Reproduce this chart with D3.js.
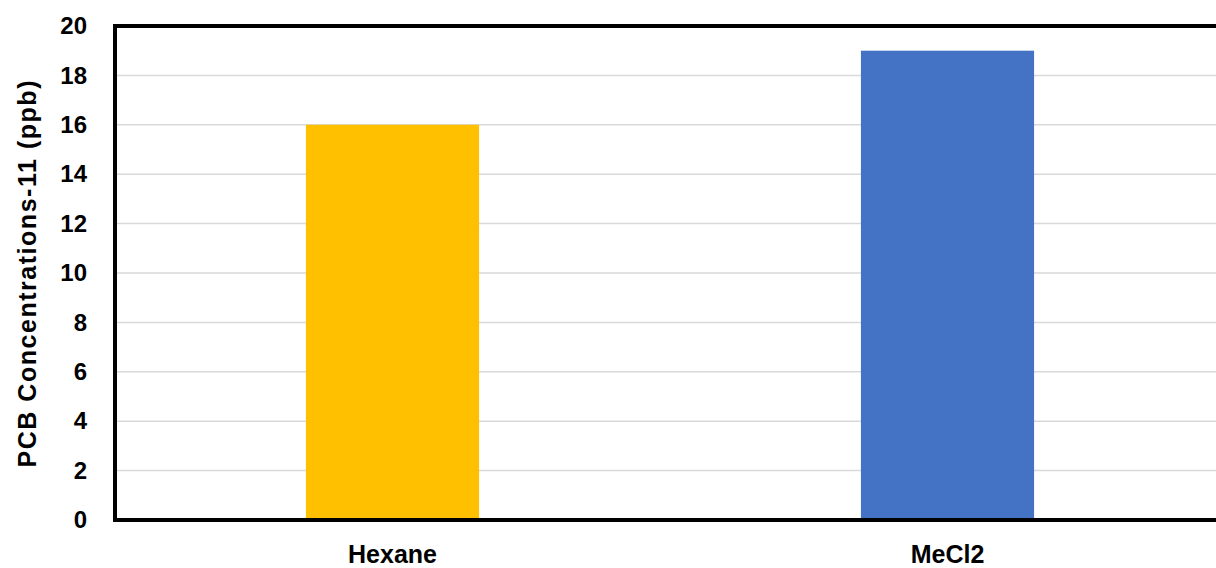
<!DOCTYPE html>
<html>
  <head>
    <meta charset="utf-8" />
    <script src="https://d3js.org/d3.v7.min.js"></script>
    <style>
      body { margin: 0; background: #fff; }
      text { font-family: "Liberation Sans", Arial, sans-serif; font-weight: bold; fill: #000; }
    </style>
  </head>
  <body>
    <div id="chart"></div>
    <script>
      // chart data
      const categories = ["Hexane", "MeCl2"];
      const values = [16, 19];
      const colors = ["#ffc000", "#4472c4"];
      const yTicks = [0, 2, 4, 6, 8, 10, 12, 14, 16, 18, 20];

      const width = 1216;
      const height = 568;
      const margin = { top: 26, right: -9, bottom: 48, left: 115 };

      const svg = d3
        .select("#chart")
        .append("svg")
        .attr("width", width)
        .attr("height", height);

      const x = d3
        .scaleBand()
        .domain(categories)
        .range([margin.left, width - margin.right])
        .paddingInner(0.688)
        .paddingOuter(0.344);

      const y = d3
        .scaleLinear()
        .domain([0, 20])
        .range([height - margin.bottom, margin.top]);

      // gridlines
      svg
        .append("g")
        .selectAll("line")
        .data(yTicks.filter((d) => d > 0 && d < 20))
        .enter()
        .append("line")
        .attr("x1", margin.left)
        .attr("x2", width)
        .attr("y1", (d) => y(d))
        .attr("y2", (d) => y(d))
        .style("stroke", "#d9d9d9")
        .style("stroke-width", 1.5);

      // bars
      svg
        .append("g")
        .selectAll("rect")
        .data(values)
        .enter()
        .append("rect")
        .attr("x", (d, i) => x(categories[i]))
        .attr("width", x.bandwidth())
        .attr("y", (d) => y(d))
        .attr("height", (d) => y(0) - y(d))
        .style("fill", (d, i) => colors[i]);

      // frame: top, left, bottom (right edge falls outside the view)
      svg
        .append("path")
        .attr("d", `M${width},${y(20)}H${margin.left}V${y(0)}H${width}`)
        .style("fill", "none")
        .style("stroke", "#000")
        .style("stroke-width", 4);

      // y tick labels
      const yAxis = d3.axisLeft(y).tickValues(yTicks).tickSize(0).tickPadding(28);
      svg
        .append("g")
        .attr("transform", `translate(${margin.left},0)`)
        .call(yAxis)
        .call((g) => g.select(".domain").remove())
        .selectAll("text")
        .style("font-family", "Liberation Sans, Arial, sans-serif")
        .style("font-weight", "bold")
        .style("font-size", "24px");

      // x labels
      const xAxis = d3.axisBottom(x).tickSize(0).tickPadding(25);
      svg
        .append("g")
        .attr("transform", `translate(0,${y(0)})`)
        .call(xAxis)
        .call((g) => g.select(".domain").remove())
        .selectAll("text")
        .style("font-family", "Liberation Sans, Arial, sans-serif")
        .style("font-weight", "bold")
        .style("font-size", "25px");

      // y axis title
      svg
        .append("text")
        .attr("transform", `translate(36,${(y(0) + y(20)) / 2 + 1}) rotate(-90)`)
        .attr("text-anchor", "middle")
        .attr("textLength", 387)
        .attr("lengthAdjust", "spacing")
        .style("font-size", "25px")
        .text("PCB Concentrations-11 (ppb)");
    </script>
  </body>
</html>
